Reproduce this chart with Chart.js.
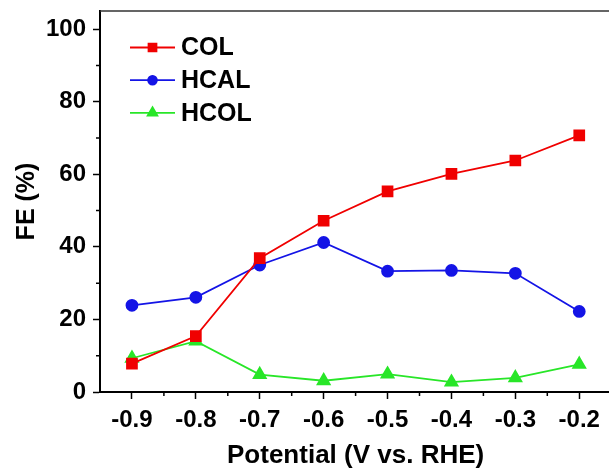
<!DOCTYPE html>
<html>
<head>
<meta charset="utf-8">
<script src="https://cdn.jsdelivr.net/npm/chart.js@4.4.0/dist/chart.umd.min.js"></script>
<style>
  html, body { margin: 0; padding: 0; background: #fff; overflow: hidden; }
</style>
</head>
<body>
<canvas id="feChart" width="620" height="468"></canvas>
<script>
// potentials (V vs. RHE)
var potentials = [-0.9, -0.8, -0.7, -0.6, -0.5, -0.4, -0.3, -0.2];
var colFE  = [7.8, 15.4, 36.9, 47.2, 55.3, 60.1, 63.8, 70.7];
var hcalFE = [23.9, 26.1, 35.0, 41.2, 33.3, 33.5, 32.7, 22.2];
var hcolFE = [9.3, 14.0, 4.8, 3.1, 4.9, 2.7, 3.9, 7.6];
var yTickLabels = [0, 20, 40, 60, 80, 100];

function pts(vals) {
    return potentials.map(function(x, i) { return { x: x, y: vals[i] }; });
}

var FONT = 'Arial, "Liberation Sans", sans-serif';

// frame, minor ticks and legend drawn inside the plot
var extras = {
    id: 'extras',
    afterDraw: function(chart) {
        var ctx = chart.ctx, a = chart.chartArea;
        var xs = chart.scales.x, ys = chart.scales.y;
        ctx.save();
        ctx.strokeStyle = '#333';
        ctx.lineWidth = 1.5;
        ctx.beginPath();
        ctx.moveTo(a.left, a.top);
        ctx.lineTo(a.right, a.top);
        ctx.lineTo(a.right, a.bottom);
        ctx.stroke();
        // minor ticks
        ctx.strokeStyle = '#000';
        ctx.lineWidth = 1.5;
        ctx.beginPath();
        for (var i = 0; i < yTickLabels.length - 1; i++) {
            var py = ys.getPixelForValue((yTickLabels[i] + yTickLabels[i + 1]) / 2);
            ctx.moveTo(a.left, py); ctx.lineTo(a.left - 4, py);
        }
        for (var j = 0; j <= potentials.length; j++) {
            var px = xs.getPixelForValue(potentials[0] - 0.05 + j * 0.1);
            if (px > a.left + 1 && px < a.right) { ctx.moveTo(px, a.bottom); ctx.lineTo(px, a.bottom + 4); }
        }
        ctx.stroke();
        // legend
        ctx.font = 'bold 25px ' + FONT;
        ctx.textBaseline = 'middle';
        chart.data.datasets.forEach(function(ds, k) {
            var y = 47.5 + k * 32.7;
            ctx.strokeStyle = ds.borderColor;
            ctx.lineWidth = 1.8;
            ctx.beginPath(); ctx.moveTo(130, y); ctx.lineTo(175, y); ctx.stroke();
            Chart.helpers.drawPoint(ctx, {
                pointStyle: ds.pointStyle, radius: ds.pointRadius * 0.8, borderWidth: 1, rotation: 0
            }, 152.5, y);
            ctx.fillStyle = ds.borderColor;
            ctx.fill();
            ctx.fillStyle = '#000';
            ctx.fillText(ds.label, 181, y + 1);
        });
        ctx.restore();
    }
};

var ctx = document.getElementById('feChart').getContext('2d');
var chart = new Chart(ctx, {
    type: 'line',
    data: {
        datasets: [{
            label: 'COL',
            data: pts(colFE),
            borderColor: 'rgb(240, 0, 0)',
            backgroundColor: 'rgb(240, 0, 0)',
            pointStyle: 'rect',
            pointRadius: 7,
            borderWidth: 1.8
        }, {
            label: 'HCAL',
            data: pts(hcalFE),
            borderColor: 'rgb(20, 20, 230)',
            backgroundColor: 'rgb(20, 20, 230)',
            pointStyle: 'circle',
            pointRadius: 5.5,
            borderWidth: 1.8
        }, {
            label: 'HCOL',
            data: pts(hcolFE),
            borderColor: 'rgb(40, 230, 40)',
            backgroundColor: 'rgb(40, 230, 40)',
            pointStyle: 'triangle',
            pointRadius: 7,
            borderWidth: 1.8
        }]
    },
    options: {
        responsive: false,
        animation: false,
        events: [],
        layout: { padding: { top: 11, left: 0, right: 0, bottom: 0 } },
        plugins: { legend: { display: false }, tooltip: { enabled: false } },
        elements: { line: { tension: 0 }, point: { borderWidth: 1 } },
        scales: {
            x: {
                type: 'linear',
                min: -0.95,
                max: -0.15,
                afterBuildTicks: function(s) { s.ticks = potentials.map(function(v) { return { value: v }; }); },
                afterFit: function(s) { s.height = 76; },
                border: { display: true, color: '#000', width: 2 },
                grid: { drawOnChartArea: false, drawTicks: true, tickLength: 7, tickWidth: 1.5, tickColor: '#000' },
                ticks: {
                    padding: 7,
                    color: '#000',
                    font: { family: FONT, size: 24, weight: 'bold' },
                    callback: function(v) { return v.toFixed(1); }
                },
                title: {
                    display: true,
                    text: 'Potential (V vs. RHE)',
                    color: '#000',
                    font: { family: FONT, size: 26, weight: 'bold', lineHeight: 0.9 },
                    padding: { top: 0, bottom: 0 }
                }
            },
            y: {
                min: 0,
                max: 105,
                afterBuildTicks: function(s) { s.ticks = yTickLabels.map(function(v) { return { value: v }; }); },
                afterFit: function(s) { s.width = 100; s.paddingTop = 0; s.paddingBottom = 0; },
                border: { display: true, color: '#000', width: 2 },
                grid: { drawOnChartArea: false, drawTicks: true, tickLength: 7, tickWidth: 1.5, tickColor: '#000' },
                ticks: {
                    padding: 7,
                    color: '#000',
                    font: { family: FONT, size: 24, weight: 'bold' }
                },
                title: {
                    display: true,
                    text: 'FE (%)',
                    color: '#000',
                    font: { family: FONT, size: 25, weight: 'bold', lineHeight: 1 },
                    padding: { top: 15, bottom: 0 }
                }
            }
        }
    },
    plugins: [extras]
});
</script>
</body>
</html>
